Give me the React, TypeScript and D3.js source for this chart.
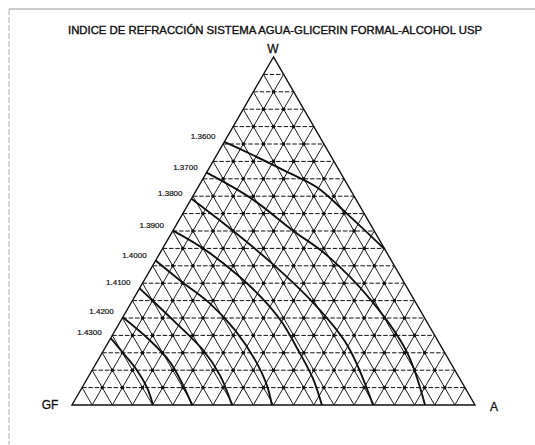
import React from "react";
import * as d3 from "d3";

// Title and vertex labels
const titleText = "INDICE DE REFRACCIÓN SISTEMA AGUA-GLICERIN FORMAL-ALCOHOL USP";
const vertexW = "W";
const vertexGF = "GF";
const vertexA = "A";

// Grid: percent steps
const gridStep = 5;

// Iso-refractive-index curves (W %, A %; GF = 100 - W - A)
const curveLabels = ["1.3600", "1.3700", "1.3800", "1.3900", "1.4000", "1.4100", "1.4200", "1.4300"];
const curveW = [
  [75.6, 72.2, 67.3, 62.5, 55.0, 44.7],
  [66.8, 59.6, 50.1, 43.0, 29.5, 15.2, 0],
  [59.3, 50.1, 40.4, 29.5, 17.2, 0],
  [50.1, 45.0, 37.5, 30.7, 23.8, 15.8, 7.7, 0],
  [41.5, 35.8, 29.2, 21.5, 12.9, 5.7, 0],
  [33.5, 30.7, 23.8, 15.8, 8.6, 0],
  [25.2, 18.6, 12.3, 5.7, 0],
  [19.2, 14.3, 10.0, 4.9, 0],
];
const curveA = [
  [0, 8.1, 19.2, 29.6, 40.7, 55.3],
  [0, 14.4, 29.8, 41.8, 59.9, 75.5, 87.6],
  [0, 14.9, 29.7, 45.0, 59.7, 74.7],
  [0, 10.0, 22.2, 31.8, 40.2, 48.2, 55.9, 62.0],
  [0, 8.9, 19.6, 29.7, 39.0, 45.5, 49.6],
  [0, 4.0, 13.7, 24.6, 32.4, 39.7],
  [0, 10.0, 18.2, 24.7, 29.8],
  [0, 6.0, 11.1, 16.2, 20.1],
];

const WIDTH = 535;
const HEIGHT = 445;
const FONT = "'Liberation Sans', Arial, Helvetica, sans-serif";

export default function App() {
  // ternary -> cartesian via linear scales
  const xScale = d3.scaleLinear().domain([0, 100]).range([72, 475]);
  const yScale = d3.scaleLinear().domain([0, 100]).range([405, 57]);
  const px = (w: number, a: number) => xScale(a + w / 2);
  const py = (w: number) => yScale(w);

  const steps = d3.range(gridStep, 100, gridStep);

  const hLines = steps.map((w) => ({
    x1: px(w, 0), y1: py(w), x2: px(w, 100 - w), y2: py(w),
  }));
  const aLines = steps.map((a) => ({
    x1: px(0, a), y1: py(0), x2: px(100 - a, a), y2: py(100 - a),
  }));
  const gLines = steps.map((g) => ({
    x1: px(0, 100 - g), y1: py(0), x2: px(100 - g, 0), y2: py(100 - g),
  }));
  const nodes: { x: number; y: number }[] = [];
  for (let w = gridStep; w < 100; w += gridStep) {
    for (let a = gridStep; a < 100 - w; a += gridStep) {
      nodes.push({ x: px(w, a), y: py(w) });
    }
  }

  const line = d3
    .line<[number, number]>()
    .x((d) => px(d[0], d[1]))
    .y((d) => py(d[0]))
    .curve(d3.curveCatmullRom.alpha(0.5));

  const tri = `M${px(100, 0)},${py(100)}L${px(0, 0)},${py(0)}L${px(0, 100)},${py(0)}Z`;

  return (
    <svg
      width={WIDTH}
      height={HEIGHT}
      style={{ position: "absolute", left: 0, top: 0, background: "#fff" }}
      fontFamily={FONT}
    >
      <rect x={0} y={0} width={WIDTH} height={HEIGHT} fill="#fff" />
      {/* page frame */}
      <line x1={9} y1={9} x2={535} y2={9} stroke="#8a8a8a" strokeWidth={0.9} />
      <line x1={9} y1={9} x2={9} y2={445} stroke="#a0a0a0" strokeWidth={0.8} strokeDasharray="6,2" />

      <text x={275} y={34} textAnchor="middle" fontSize={10.2} fill="#111" stroke="#111" strokeWidth={0.35}
        textLength={414} lengthAdjust="spacingAndGlyphs">
        {titleText}
      </text>

      {/* grid */}
      <g stroke="#111" strokeWidth={0.95}>
        {aLines.map((l, i) => (
          <line key={"a" + i} {...l} />
        ))}
        {gLines.map((l, i) => (
          <line key={"g" + i} {...l} />
        ))}
      </g>
      <g stroke="#111" strokeWidth={1} strokeDasharray="4.5,1.8">
        {hLines.map((l, i) => (
          <line key={"h" + i} {...l} />
        ))}
      </g>
      <g fill="#111">
        {nodes.map((n, i) => (
          <circle key={"n" + i} cx={n.x} cy={n.y} r={1.8} />
        ))}
      </g>
      <path d={tri} fill="none" stroke="#111" strokeWidth={1.4} />

      {/* iso-index curves */}
      <g fill="none" stroke="#111" strokeWidth={1.9}>
        {curveLabels.map((lab, i) => {
          const pts = curveW[i].map((w, j) => [w, curveA[i][j]] as [number, number]);
          return <path key={lab} d={line(pts) || ""} />;
        })}
      </g>
      <g fontSize={8} fill="#111" stroke="#111" strokeWidth={0.2} textAnchor="end">
        {curveLabels.map((lab, i) => (
          <text key={lab} x={px(curveW[i][0], 0) - 9} y={py(curveW[i][0]) - 3}>
            {lab}
          </text>
        ))}
      </g>

      <g fontSize={12} fill="#111" stroke="#111" strokeWidth={0.3} textAnchor="middle">
        <text x={273} y={53}>{vertexW}</text>
        <text x={50} y={409}>{vertexGF}</text>
        <text x={494} y={411}>{vertexA}</text>
      </g>
    </svg>
  );
}
